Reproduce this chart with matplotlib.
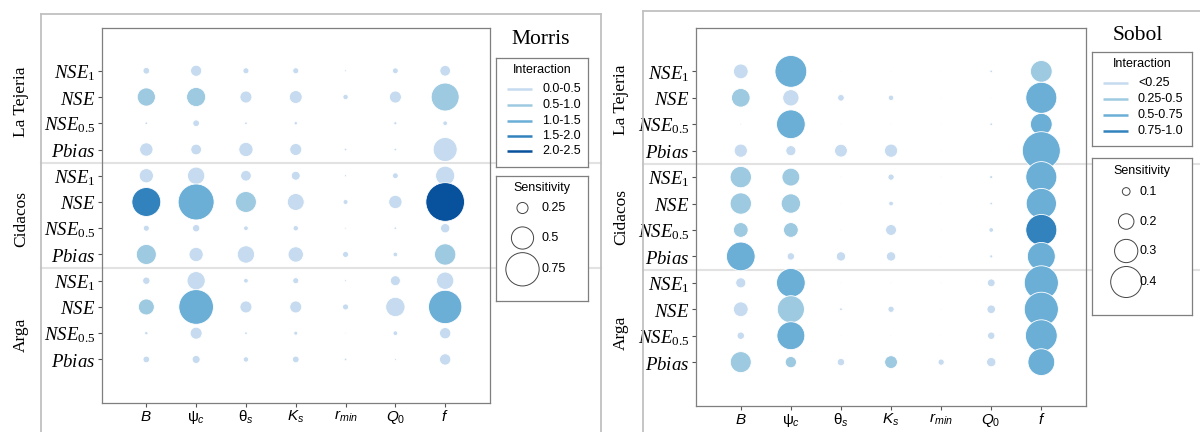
import numpy as np
import matplotlib
matplotlib.use("Agg")
import matplotlib.pyplot as plt
import matplotlib.transforms as mtransforms
from matplotlib.lines import Line2D

# Serif italic for the metric labels, sans faces (via the sf / tt slots) for parameter symbols
plt.rcParams.update({
    "mathtext.fontset": "custom",
    "mathtext.it": "Liberation Serif:italic",
    "mathtext.rm": "Liberation Serif",
    "mathtext.sf": "Liberation Sans:italic",
    "mathtext.tt": "Liberation Sans",
})

# ---------------- data ----------------
parameters = [r"$\mathsf{B}$", r"$\mathtt{ψ}_\mathsf{c}$", r"$\mathtt{θ}_\mathsf{s}$",
              r"$\mathsf{K}_\mathsf{s}$", r"$\mathsf{r}_\mathsf{min}$",
              r"$\mathsf{Q}_\mathtt{0}$", r"$\mathsf{f}$"]
metrics = [r"$\mathit{NSE}_{\mathit{1}}$", r"$\mathit{NSE}$",
           r"$\mathit{NSE}_{\mathit{0.5}}$", r"$\mathit{Pbias}$"]
catchments = ["La Tejeria", "Cidacos", "Arga"]

# Morris sensitivity (rows: NSE1, NSE, NSE0.5, Pbias; columns: parameters)
morris_tejeria = [[0.15, 0.25, 0.135, 0.135, 0.045, 0.13, 0.24],
                  [0.41, 0.43, 0.27, 0.29, 0.12, 0.27, 0.63],
                  [0.06, 0.15, 0.06, 0.075, 0.02, 0.07, 0.105],
                  [0.30, 0.24, 0.32, 0.27, 0.06, 0.06, 0.54]]
morris_cidacos = [[0.32, 0.39, 0.24, 0.20, 0.05, 0.13, 0.43],
                  [0.65, 0.81, 0.47, 0.38, 0.11, 0.30, 0.87],
                  [0.135, 0.165, 0.105, 0.12, 0.04, 0.06, 0.21],
                  [0.45, 0.32, 0.39, 0.345, 0.135, 0.105, 0.48]]
morris_arga = [[0.165, 0.41, 0.105, 0.135, 0.045, 0.225, 0.39],
               [0.36, 0.78, 0.27, 0.27, 0.135, 0.435, 0.75],
               [0.075, 0.27, 0.06, 0.09, 0.03, 0.105, 0.255],
               [0.15, 0.18, 0.12, 0.15, 0.06, 0.045, 0.255]]
# Morris interaction class (index into morris_classes)
morris_tejeria_cls = [[0, 0, 0, 0, 0, 0, 0],
                      [1, 1, 0, 0, 0, 0, 1],
                      [0, 0, 0, 0, 0, 0, 0],
                      [0, 0, 0, 0, 0, 0, 0]]
morris_cidacos_cls = [[0, 0, 0, 0, 0, 0, 0],
                      [3, 2, 1, 0, 0, 0, 4],
                      [0, 0, 0, 0, 0, 0, 0],
                      [1, 0, 0, 0, 0, 0, 1]]
morris_arga_cls = [[0, 0, 0, 0, 0, 0, 0],
                   [1, 2, 0, 0, 0, 0, 2],
                   [0, 0, 0, 0, 0, 0, 0],
                   [0, 0, 0, 0, 0, 0, 0]]

# Sobol sensitivity
sobol_tejeria = [[0.19, 0.41, 0.01, 0.01, 0.01, 0.035, 0.28],
                 [0.24, 0.21, 0.085, 0.07, 0.01, 0.01, 0.40],
                 [0.02, 0.37, 0.01, 0.01, 0.01, 0.035, 0.28],
                 [0.17, 0.13, 0.165, 0.17, 0.01, 0.01, 0.49]]
sobol_cidacos = [[0.275, 0.23, 0.01, 0.08, 0.01, 0.04, 0.40],
                 [0.275, 0.25, 0.015, 0.06, 0.01, 0.035, 0.39],
                 [0.19, 0.19, 0.01, 0.14, 0.01, 0.06, 0.40],
                 [0.37, 0.095, 0.12, 0.12, 0.01, 0.04, 0.36]]
sobol_arga = [[0.13, 0.37, 0.01, 0.01, 0.01, 0.10, 0.44],
              [0.19, 0.35, 0.035, 0.08, 0.01, 0.11, 0.44],
              [0.095, 0.36, 0.01, 0.01, 0.01, 0.095, 0.41],
              [0.27, 0.145, 0.095, 0.165, 0.08, 0.12, 0.345]]
sobol_tejeria_cls = [[0, 2, 0, 0, 0, 0, 1],
                     [1, 0, 0, 0, 0, 0, 2],
                     [0, 2, 0, 0, 0, 0, 2],
                     [0, 0, 0, 0, 0, 0, 2]]
sobol_cidacos_cls = [[1, 1, 0, 0, 0, 0, 2],
                     [1, 1, 0, 0, 0, 0, 2],
                     [1, 1, 0, 0, 0, 0, 3],
                     [2, 0, 0, 0, 0, 0, 2]]
sobol_arga_cls = [[0, 2, 0, 0, 0, 0, 2],
                  [0, 1, 0, 0, 0, 0, 2],
                  [0, 2, 0, 0, 0, 0, 2],
                  [1, 1, 0, 1, 0, 0, 2]]

morris_classes = ["0.0-0.5", "0.5-1.0", "1.0-1.5", "1.5-2.0", "2.0-2.5"]
sobol_classes = ["<0.25", "0.25-0.5", "0.5-0.75", "0.75-1.0"]
morris_size_ticks = [0.25, 0.5, 0.75]
sobol_size_ticks = [0.1, 0.2, 0.3, 0.4]

blues = ["#c6dbef", "#9ecae1", "#6baed6", "#3182bd", "#08519c"]

# ---------------- layout helpers ----------------
W, H, DPI = 1200, 432, 100
fig = plt.figure(figsize=(W / DPI, H / DPI), dpi=DPI)
fig.patch.set_facecolor("white")


def px_box(x0, y0, x1, y1):
    return [x0 / W, 1 - y1 / H, (x1 - x0) / W, (y1 - y0) / H]


def fig_line(xs, ys, **kw):
    fig.add_artist(Line2D([x / W for x in xs], [1 - y / H for y in ys],
                          transform=fig.transFigure, **kw))


def marker_area(v, px_per_unit):
    # bubble diameter grows linearly with the sensitivity value
    return (np.asarray(v) * px_per_unit * 72.0 / DPI) ** 2


SPINE = "#7f7f7f"
FRAME = "#c0c0c0"
SEP = "#e2e2e2"
LEG_FS = 9


def draw_panel(axbox, sep_x, label_x, label_ys, blocks, cls_blocks, k):
    ax = fig.add_axes(px_box(*axbox))
    ax.set_facecolor("none")
    ax.set_xlim(0.1, 7.9)
    ax.set_ylim(-0.66, 13.63)
    n = len(metrics)
    for g, (vals, cls) in enumerate(zip(blocks, cls_blocks)):
        for m in range(n):
            row = 12 - (g * n + m)
            ax.scatter(np.arange(1, 8), np.full(7, row),
                       s=marker_area(vals[m], k),
                       c=[blues[i] for i in cls[m]],
                       edgecolors="white", linewidths=0.6, zorder=3)
    ax.set_xticks(np.arange(1, 8))
    ax.set_xticklabels(parameters, fontsize=11)
    ax.set_yticks(12 - np.arange(12))
    ax.set_yticklabels(metrics * len(catchments), fontsize=13.5)
    ax.tick_params(axis="both", direction="out", length=3, width=0.8,
                   color="#555555", pad=1.5)
    for s in ax.spines.values():
        s.set_color(SPINE)
        s.set_linewidth(0.9)
    # catchment separators spanning the whole panel
    tr = mtransforms.blended_transform_factory(fig.transFigure, ax.transData)
    for yv in (8.5, 4.5):
        fig.add_artist(Line2D([sep_x[0] / W, sep_x[1] / W], [yv, yv],
                              transform=tr, color=SEP, lw=1.5, zorder=-1))
    for name, yc in zip(catchments, label_ys):
        fig.text(label_x / W, 1 - yc / H, name, rotation=90, ha="center",
                 va="center", family="Liberation Serif", fontsize=12.5)
    return ax


def legend_box(x0, y0, x1, y1):
    lax = fig.add_axes(px_box(x0, y0, x1, y1), zorder=1)
    lax.set_xlim(x0, x1)
    lax.set_ylim(y1, y0)
    lax.set_xticks([])
    lax.set_yticks([])
    lax.set_facecolor("white")
    for s in lax.spines.values():
        s.set_color(SPINE)
        s.set_linewidth(0.9)
    return lax


def draw_legends(title, title_xy, bx, ibox, ilines, iys, ilabel_x, classes,
                 sbox, title_y, sys_, scx, slabel_x, ticks, k):
    fig.text(title_xy[0] / W, 1 - title_xy[1] / H, title, ha="center",
             va="center", family="Liberation Serif", fontsize=15.5)
    lax = legend_box(bx[0], ibox[0], bx[1], ibox[1])
    lax.text((bx[0] + bx[1]) / 2, ibox[0] + 12, "Interaction", ha="center",
             va="center", family="Liberation Sans", fontsize=LEG_FS)
    for i, (lab, yv) in enumerate(zip(classes, iys)):
        lax.plot(ilines, [yv, yv], color=blues[i], lw=1.8,
                 solid_capstyle="butt")
        lax.text(ilabel_x, yv, lab, ha="left", va="center",
                 family="Liberation Sans", fontsize=LEG_FS)
    sax = legend_box(bx[0], sbox[0], bx[1], sbox[1])
    sax.text((bx[0] + bx[1]) / 2, title_y, "Sensitivity", ha="center",
             va="center", family="Liberation Sans", fontsize=LEG_FS)
    sax.scatter([scx] * len(ticks), sys_, s=marker_area(ticks, k),
                facecolors="none", edgecolors="#444444", linewidths=0.7,
                clip_on=False)
    for t, yv in zip(ticks, sys_):
        sax.text(slabel_x, yv, f"{t:g}", ha="left", va="center",
                 family="Liberation Sans", fontsize=LEG_FS)


# ---------------- outer frames ----------------
fig_line([41, 601], [14, 14], color=FRAME, lw=1.3)
fig_line([41, 41], [14, 432], color=FRAME, lw=1.3)
fig_line([601, 601], [14, 432], color=FRAME, lw=1.3)
fig_line([643, 1200], [11, 11], color=FRAME, lw=1.3)
fig_line([643, 643], [11, 432], color=FRAME, lw=1.3)

# ---------------- Morris panel ----------------
draw_panel((101.5, 28, 490, 403), (41, 601), 21,
           (102, 218.5, 335),
           [morris_tejeria, morris_cidacos, morris_arga],
           [morris_tejeria_cls, morris_cidacos_cls, morris_arga_cls], 44.4)
draw_legends("Morris", (540.7, 39.5), (495.6, 588.2), (57.5, 166.5),
             (507, 532), [89.3, 105, 120.5, 135.8, 151.2], 542.3,
             morris_classes, (175.7, 300.7), 188, [208, 238, 269.3],
             522.5, 541, morris_size_ticks, 44.4)

# ---------------- Sobol panel ----------------
draw_panel((695.7, 28.3, 1086.4, 406), (643, 1200), 621,
           (100, 216.7, 333),
           [sobol_tejeria, sobol_cidacos, sobol_arga],
           [sobol_tejeria_cls, sobol_cidacos_cls, sobol_arga_cls], 77.5)
draw_legends("Sobol", (1137.7, 35), (1091.8, 1192), (51.7, 146),
             (1103, 1128), [83, 99.2, 115, 131], 1138,
             sobol_classes, (158.3, 315), 170.7, [191.5, 221.5, 251, 282],
             1126.2, 1140, sobol_size_ticks, 77.5)

fig.savefig("out.png", dpi=DPI, facecolor="white")
